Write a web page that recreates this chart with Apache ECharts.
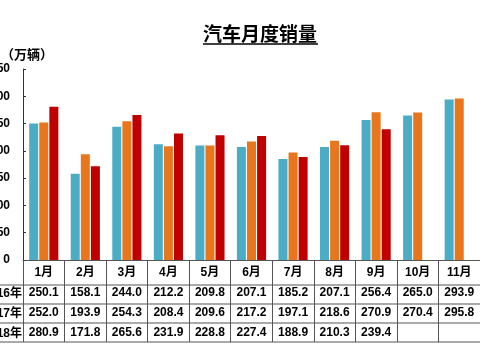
<!DOCTYPE html>
<html><head><meta charset="utf-8">
<script src="https://cdn.jsdelivr.net/npm/echarts@6/dist/echarts.min.js"></script>
<style>html,body{margin:0;padding:0;background:#fff}#c{width:480px;height:360px}</style>
</head><body><div id="c"></div>
<script>
var months = ['1月','2月','3月','4月','5月','6月','7月','8月','9月','10月','11月'];
var years = ['2016年','2017年','2018年'];
var s2016 = [250.1,158.1,244.0,212.2,209.8,207.1,185.2,207.1,256.4,265.0,293.9];
var s2017 = [252.0,193.9,254.3,208.4,209.6,217.2,197.1,218.6,270.9,270.4,295.8];
var s2018 = [280.9,171.8,265.6,231.9,228.8,227.4,188.9,210.3,239.4,null,null];
var yTicks = [0,50,100,150,200,250,300,350];
var colors = ['#4BACC6','#E8761C','#C00000'];
var allSeries = [s2016, s2017, s2018];

var fontFam = '"Liberation Sans", Arial, "Noto Sans CJK SC", sans-serif';
var chart = echarts.init(document.getElementById('c'));

var graphics = [
  {type:'text', left: 203, top: 24, style:{text:'汽车月度销量', font:'bold 19px "Noto Sans CJK SC", sans-serif', fill:'#000'}},
  {type:'line', shape:{x1:203,y1:44,x2:318,y2:44}, style:{stroke:'#000', lineWidth:1.5}},
  {type:'text', left: 1, top: 48, style:{text:'（万辆）', font:'bold 13px "Noto Sans CJK SC", sans-serif', fill:'#000'}}
];
[285,304,323,342].forEach(function(y){
  graphics.push({type:'line', shape:{x1:0,y1:y,x2:480,y2:y}, style:{stroke:'#555', lineWidth:1}});
});
years.forEach(function(yr, i){
  graphics.push({type:'text', x: 22, y: 294 + i*20, style:{text: yr, font:'bold 12px ' + fontFam, fill:'#000', align:'right', verticalAlign:'middle'}});
});

function fmt(v){ return v == null ? '' : v.toFixed(1); }

chart.setOption({
  animation: false,
  grid: {left: 23, right: 0, top: 69, bottom: 100, containLabel: false, outerBoundsMode: 'none'},
  xAxis: {
    type: 'category', data: months,
    axisLine: {show: true, lineStyle: {color: '#555', width: 1}},
    axisTick: {show: true, length: 82, alignWithLabel: false, interval: 0, lineStyle: {color: '#555'}},
    axisLabel: {
      interval: 0, margin: 3, color: '#000', fontWeight: 'bold', fontSize: 12, lineHeight: 20,
      fontFamily: fontFam,
      formatter: function(val, idx){
        return [val, fmt(s2016[idx]), fmt(s2017[idx]), fmt(s2018[idx])].join('\n');
      }
    }
  },
  yAxis: {
    type: 'value', min: yTicks[0], max: yTicks[yTicks.length-1], interval: 50,
    axisLine: {show: true, lineStyle: {color: '#333'}},
    axisTick: {show: true, inside: true, length: 3, lineStyle: {color: '#333'}},
    splitLine: {show: false},
    axisLabel: {color: '#000', fontWeight: 'bold', fontSize: 12, margin: 13, fontFamily: fontFam}
  },
  graphic: graphics,
  series: allSeries.map(function(d, i){
    return {
      type: 'bar', name: years[i], data: d,
      barWidth: 9, barGap: '12%', barCategoryGap: '27%',
      itemStyle: {color: colors[i]}
    };
  })
});
</script></body></html>
